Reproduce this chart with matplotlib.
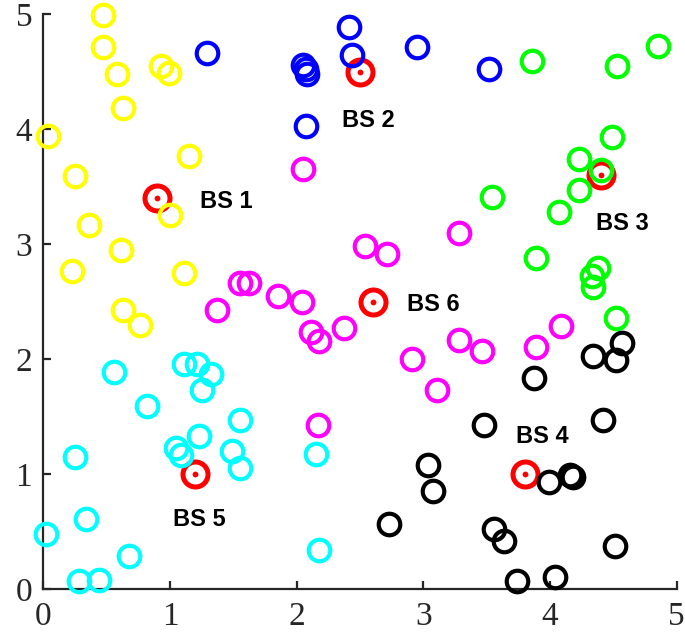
import matplotlib
matplotlib.use("Agg")
import matplotlib.pyplot as plt

# Base stations
bs_names = ["BS 1", "BS 2", "BS 3", "BS 4", "BS 5", "BS 6"]
bs_x = [0.90, 2.50, 4.40, 3.80, 1.20, 2.60]
bs_y = [3.40, 4.50, 3.60, 1.00, 1.00, 2.50]
label_x = [1.24, 2.36, 4.36, 3.73, 1.02, 2.87]
label_y = [3.31, 4.02, 3.12, 1.27, 0.55, 2.42]

# Users per base station
u1_x = [0.47, 0.47, 0.58, 0.93, 0.99, 0.63, 0.04, 1.15, 0.25, 1.00, 0.36, 0.61, 0.23, 1.11, 0.63, 0.76]
u1_y = [4.99, 4.71, 4.48, 4.55, 4.49, 4.18, 3.94, 3.77, 3.59, 3.25, 3.17, 2.95, 2.77, 2.75, 2.43, 2.30]

u2_x = [1.29, 2.05, 2.07, 2.08, 2.07, 2.41, 2.44, 2.95, 3.52]
u2_y = [4.66, 4.56, 4.52, 4.48, 4.03, 4.89, 4.64, 4.71, 4.52]

u3_x = [3.86, 4.53, 4.85, 4.49, 4.23, 4.40, 4.23, 4.07, 3.54, 3.89, 4.38, 4.33, 4.34, 4.52]
u3_y = [4.59, 4.55, 4.72, 3.93, 3.74, 3.64, 3.47, 3.28, 3.41, 2.88, 2.79, 2.72, 2.63, 2.36]

u4_x = [4.57, 4.34, 4.52, 3.87, 4.42, 3.48, 3.04, 3.08, 3.99, 4.16, 4.18, 2.73, 3.56, 3.64, 4.51, 3.74, 4.04]
u4_y = [2.14, 2.03, 1.99, 1.84, 1.47, 1.43, 1.08, 0.85, 0.93, 0.99, 0.98, 0.57, 0.52, 0.42, 0.38, 0.07, 0.11]

u5_x = [0.56, 1.11, 1.21, 1.32, 1.25, 0.82, 1.55, 1.23, 1.05, 1.09, 1.49, 1.55, 0.25, 2.15, 0.34, 0.02, 0.68, 0.28, 0.44, 2.18]
u5_y = [1.89, 1.96, 1.96, 1.87, 1.73, 1.59, 1.47, 1.33, 1.23, 1.17, 1.20, 1.05, 1.15, 1.18, 0.61, 0.48, 0.29, 0.07, 0.08, 0.34]

u6_x = [2.05, 1.55, 1.62, 1.85, 2.04, 1.37, 3.28, 2.54, 2.71, 2.11, 2.18, 2.37, 2.17, 2.91, 3.11, 3.28, 3.46, 3.89, 4.09]
u6_y = [3.65, 2.66, 2.66, 2.55, 2.50, 2.43, 3.10, 2.98, 2.91, 2.24, 2.16, 2.27, 1.43, 2.00, 1.73, 2.17, 2.07, 2.11, 2.29]

users = [(u1_x, u1_y), (u2_x, u2_y), (u3_x, u3_y), (u4_x, u4_y), (u5_x, u5_y), (u6_x, u6_y)]
colors = ["#ffff00", "#0000ff", "#00ff00", "#000000", "#00ffff", "#ff00ff"]

fig = plt.figure(figsize=(6.85, 6.42), dpi=100)
ax = fig.add_axes([43.3 / 685, 1 - 589.3 / 642, (676.7 - 43.3) / 685, (589.3 - 14) / 642])

# base stations (drawn first)
ax.plot(bs_x, bs_y, linestyle="none", marker="o", markersize=18, markerfacecolor="none",
        markeredgecolor="#ff0000", markeredgewidth=3.6, zorder=2, clip_on=False)
ax.plot(bs_x, bs_y, linestyle="none", marker="o", markersize=4.2, markerfacecolor="#ff0000",
        markeredgecolor="none", zorder=2, clip_on=False)

for (ux, uy), c in zip(users, colors):
    ax.plot(ux, uy, linestyle="none", marker="o", markersize=15.5, markerfacecolor="none",
            markeredgecolor=c, markeredgewidth=3.0, zorder=3, clip_on=False)

for name, lx, ly in zip(bs_names, label_x, label_y):
    ax.text(lx, ly, name, fontsize=17, fontweight="bold", family="Liberation Sans",
            ha="left", va="baseline", color="black", zorder=4)

ax.set_xlim(0, 5)
ax.set_ylim(0, 5)
ax.set_xticks([0, 1, 2, 3, 4, 5])
ax.set_yticks([0, 1, 2, 3, 4, 5])
for s in ["top", "right"]:
    ax.spines[s].set_visible(False)
for s in ["left", "bottom"]:
    ax.spines[s].set_linewidth(1.6)
    ax.spines[s].set_color("#262626")
    ax.spines[s].set_zorder(1)
ax.tick_params(direction="in", length=5.5, width=1.6, color="#262626", labelcolor="#262626",
               labelsize=24)
ax.tick_params(axis="x", pad=9)
ax.tick_params(axis="y", pad=8)
for lab in ax.get_xticklabels() + ax.get_yticklabels():
    lab.set_family("Liberation Serif")

fig.savefig("out.png", dpi=100)
